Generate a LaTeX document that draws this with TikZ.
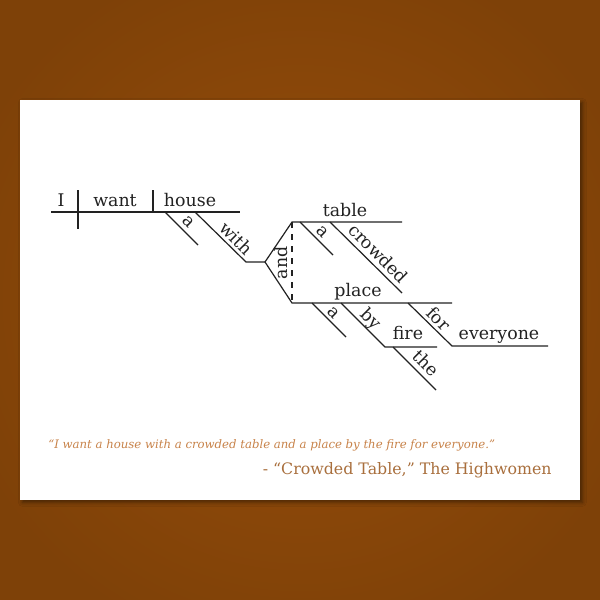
\documentclass[tikz,border=0pt]{standalone}
\usepackage{fontspec}
\setmainfont{DejaVu Serif}
\usetikzlibrary{positioning}
\usetikzlibrary{shadows.blur}
\definecolor{bgdark}{HTML}{7E4108}
\definecolor{bglight}{HTML}{984E0A}
\definecolor{ink}{HTML}{222222}
\definecolor{quoteorange}{HTML}{C8834A}
\definecolor{quotebrown}{HTML}{A96F3D}

\begin{document}
\begin{tikzpicture}[x=0.5pt, y=-0.5pt, word/.style={inner sep=0pt, anchor=base, text=ink, font=\fontsize{8.7}{10}\selectfont}, slantword/.style={word, rotate=-45}, rule/.style={draw=ink, line width=0.6pt}]
	\useasboundingbox (0,0) rectangle (600,600);
	\shade[inner color=bglight, outer color=bgdark] (-60,-60) rectangle (660,660);
	\fill[white, blur shadow={shadow xshift=1.2pt, shadow yshift=-1.2pt, shadow blur radius=2pt, shadow opacity=45}] (20,100) rectangle (580,500);

	\coordinate (baseL) at (51,212);
	\coordinate (baseR) at (240,212);
	\coordinate (subjT) at (78,190);
	\coordinate (subjB) at (78,229);
	\coordinate (verbT) at (153,190);
	\coordinate (verbB) at (153,212);
	\coordinate (aHouseT) at (165,212);
	\coordinate (aHouseB) at (198,245);
	\coordinate (withT) at (195,212);
	\coordinate (withB) at (246,262);
	\coordinate (fork) at (265,262);
	\coordinate (tableL) at (292,222);
	\coordinate (tableR) at (402,222);
	\coordinate (placeL) at (292,303);
	\coordinate (placeR) at (452,303);
	\coordinate (aTableT) at (300,222);
	\coordinate (aTableB) at (333,255);
	\coordinate (crowdedT) at (330,222);
	\coordinate (crowdedB) at (402,293);
	\coordinate (aPlaceT) at (312,303);
	\coordinate (aPlaceB) at (346,337);
	\coordinate (byT) at (341,303);
	\coordinate (fireL) at (385,347);
	\coordinate (fireR) at (437,347);
	\coordinate (theT) at (393,347);
	\coordinate (theB) at (436,390);
	\coordinate (forT) at (408,303);
	\coordinate (everyoneL) at (452,346);
	\coordinate (everyoneR) at (548,346);

	\node[word] (i) at (61,206) {I};
	\node[word] (want) at (115,206) {want};
	\node[word] (house) at (190,206) {house};
	\node[slantword] (aHouse) at (185,225) {a};
	\node[slantword] (with) at (232,243) {with};
	\node[word, rotate=90] (and) at (287,263) {and};
	\node[word] (table) at (345,216) {table};
	\node[slantword] (aTable) at (319,235) {a};
	\node[slantword] (crowded) at (374,258) {crowded};
	\node[word] (place) at (358,296) {place};
	\node[slantword] (aPlace) at (330,316) {a};
	\node[slantword] (by) at (367,323) {by};
	\node[word] (fire) at (408,339) {fire};
	\node[slantword] (the) at (422,368) {the};
	\node[slantword] (for) at (434,323) {for};
	\node[word] (everyone) at (499,339) {everyone};

	\draw[rule] (baseL) -- (baseR);
	\draw[rule] (subjT) -- (subjB);
	\draw[rule] (verbT) -- (verbB);
	\draw[rule] (aHouseT) -- (aHouseB);
	\draw[rule] (withT) -- (withB) -- (fork);
	\draw[rule] (tableR) -- (tableL) -- (fork) -- (placeL) -- (placeR);
	\draw[rule, dashed] (tableL) -- (placeL);
	\draw[rule] (aTableT) -- (aTableB);
	\draw[rule] (crowdedT) -- (crowdedB);
	\draw[rule] (aPlaceT) -- (aPlaceB);
	\draw[rule] (byT) -- (fireL) -- (fireR);
	\draw[rule] (theT) -- (theB);
	\draw[rule] (forT) -- (everyoneL) -- (everyoneR);

	\node[anchor=base west, inner sep=0pt, text=quoteorange, font=\fontsize{5.85}{7}\itshape] (quote) at (48,448) {“I want a house with a crowded table and a place by the fire for everyone.”};
	\node[anchor=base east, inner sep=0pt, text=quotebrown, font=\fontsize{7.9}{9}\selectfont] (credit) at (552,474) {- “Crowded Table,” The Highwomen};
\end{tikzpicture}
\end{document}
